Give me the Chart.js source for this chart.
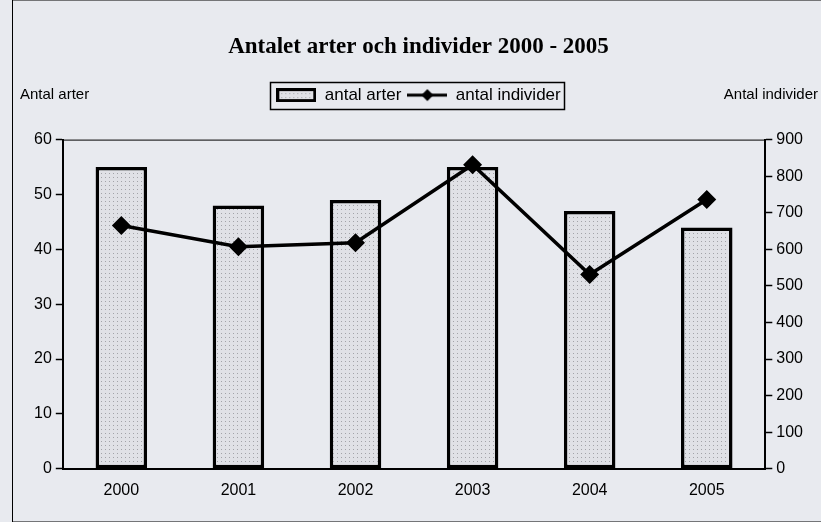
<!DOCTYPE html>
<html>
<head>
<meta charset="utf-8">
<script src="https://cdn.jsdelivr.net/npm/chart.js@4"></script>
<style>
  html, body { margin: 0; padding: 0; background: #e8eaef; }
  #wrap { width: 821px; height: 522px; }
</style>
</head>
<body>
<div id="wrap"><canvas id="artChart" width="821" height="522"></canvas></div>
<script>
const years = ['2000', '2001', '2002', '2003', '2004', '2005'];
const antalArter = [55, 48, 49, 55, 47, 44];
const antalIndivider = [665, 607, 618, 831, 531, 736];
const leftTicks = [0, 10, 20, 30, 40, 50, 60];
const rightTicks = [0, 100, 200, 300, 400, 500, 600, 700, 800, 900];

// dotted fill like the scanned bars
function dotPattern() {
    const c = document.createElement('canvas');
    c.width = 4; c.height = 4;
    const g = c.getContext('2d');
    g.fillStyle = '#e0e1e6';
    g.fillRect(0, 0, 4, 4);
    g.fillStyle = '#a2a3a8';
    g.fillRect(1, 1, 1, 1);
    return g.createPattern(c, 'repeat');
}

const pattern = dotPattern();

// legend marker: dotted box
function barMarker() {
    const c = document.createElement('canvas');
    c.width = 40; c.height = 14;
    const g = c.getContext('2d');
    g.fillStyle = pattern;
    g.fillRect(0, 0, 40, 14);
    g.strokeStyle = '#000';
    g.lineWidth = 3;
    g.strokeRect(1.5, 1.5, 37, 11);
    return c;
}

// legend marker: line with a diamond
function lineMarker() {
    const c = document.createElement('canvas');
    c.width = 40; c.height = 14;
    const g = c.getContext('2d');
    g.strokeStyle = '#000';
    g.lineWidth = 3;
    g.beginPath(); g.moveTo(0, 7); g.lineTo(40, 7); g.stroke();
    g.fillStyle = '#000';
    g.beginPath(); g.moveTo(20, 1); g.lineTo(26, 7); g.lineTo(20, 13); g.lineTo(14, 7); g.closePath(); g.fill();
    return c;
}

// frame, plot border, legend box and axis captions
const decorations = {
    id: 'decorations',
    beforeInit(chart) {
        const fit = chart.legend.fit;
        chart.legend.fit = function () {
            fit.call(this);
            this.height += 26;
        };
    },
    afterDraw(chart) {
        const ctx = chart.ctx;
        const a = chart.chartArea;
        const boxes = chart.legend.legendHitBoxes;
        ctx.save();
        ctx.strokeStyle = '#000';
        ctx.lineWidth = 1;
        ctx.strokeRect(12.5, 0, chart.width, chart.height);
        ctx.beginPath();
        ctx.moveTo(a.left, a.top + 0.5);
        ctx.lineTo(a.right, a.top + 0.5);
        ctx.stroke();
        const l = Math.min(...boxes.map(b => b.left)) - 6;
        const r = Math.max(...boxes.map(b => b.left + b.width)) + 4;
        const t = Math.min(...boxes.map(b => b.top)) - 5;
        const btm = Math.max(...boxes.map(b => b.top + b.height)) + 5;
        ctx.lineWidth = 1.5;
        ctx.strokeRect(Math.round(l) + 0.5, Math.round(t) + 0.5, Math.round(r - l), Math.round(btm - t));
        ctx.fillStyle = '#000';
        ctx.font = '15px "Liberation Sans", Arial, sans-serif';
        ctx.textBaseline = 'middle';
        const y = (t + btm) / 2;
        ctx.textAlign = 'left';
        ctx.fillText('Antal arter', 20, y);
        ctx.textAlign = 'right';
        ctx.fillText('Antal individer', 818, y);
        ctx.restore();
    }
};

const data = {
    labels: years,
    datasets: [
        {
            type: 'line',
            label: 'antal individer',
            data: antalIndivider,
            yAxisID: 'y1',
            borderColor: '#000',
            backgroundColor: '#000',
            borderWidth: 3.5,
            pointStyle: 'rectRot',
            pointRadius: 7,
            pointHoverRadius: 7,
            tension: 0,
            order: 0
        },
        {
            type: 'bar',
            label: 'antal arter',
            data: antalArter,
            yAxisID: 'y',
            backgroundColor: pattern,
            borderColor: '#000',
            borderWidth: 3.5,
            borderSkipped: false,
            barPercentage: 0.44,
            categoryPercentage: 1,
            order: 1
        }
    ]
};

const config = {
    data: data,
    options: {
        responsive: false,
        animation: false,
        layout: { padding: { left: 30, right: 14, top: 19, bottom: 10 } },
        scales: {
            x: {
                grid: { display: false, drawTicks: false },
                border: { color: '#000', width: 2 },
                ticks: { color: '#000', padding: 12, font: { size: 16, family: '"Liberation Sans", Arial, sans-serif' } }
            },
            y: {
                position: 'left',
                min: 0, max: 60,
                afterBuildTicks: s => { s.ticks = leftTicks.map(v => ({ value: v })); },
                grid: { drawOnChartArea: false, color: '#000', tickLength: 7, tickWidth: 1.5 },
                border: { color: '#000', width: 2 },
                ticks: { color: '#000', padding: 4, font: { size: 16, family: '"Liberation Sans", Arial, sans-serif' } }
            },
            y1: {
                position: 'right',
                min: 0, max: 900,
                afterBuildTicks: s => { s.ticks = rightTicks.map(v => ({ value: v })); },
                grid: { drawOnChartArea: false, color: '#000', tickLength: 7, tickWidth: 1.5 },
                border: { color: '#000', width: 2 },
                ticks: { color: '#000', padding: 4, font: { size: 16, family: '"Liberation Sans", Arial, sans-serif' } }
            }
        },
        plugins: {
            title: {
                display: true,
                text: 'Antalet arter och individer 2000 - 2005',
                color: '#000',
                font: { size: 23, weight: 'bold', family: '"Liberation Serif", "Times New Roman", serif' },
                padding: { top: 14, bottom: 20 }
            },
            legend: {
                position: 'top',
                labels: {
                    color: '#000',
                    font: { size: 17, family: '"Liberation Sans", Arial, sans-serif' },
                    usePointStyle: true,
                    pointStyleWidth: 40,
                    boxHeight: 14,
                    padding: 6,
                    generateLabels: chart => [
                        { text: 'antal arter', pointStyle: barMarker(), fillStyle: pattern, strokeStyle: '#000', lineWidth: 0, datasetIndex: 1 },
                        { text: 'antal individer', pointStyle: lineMarker(), fillStyle: '#000', strokeStyle: '#000', lineWidth: 0, datasetIndex: 0 }
                    ]
                }
            },
            tooltip: { enabled: false }
        }
    },
    plugins: [decorations]
};

const ctx = document.getElementById('artChart').getContext('2d');
const artChart = new Chart(ctx, config);
</script>
</body>
</html>
